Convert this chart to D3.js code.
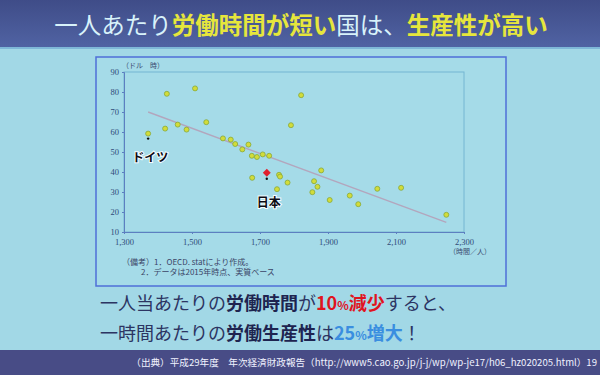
<!DOCTYPE html>
<meta charset="utf-8">
<style>
body { margin: 0; background: #a2d8e6; }
svg { display: block; font-family: "Noto Sans CJK JP", "Noto Sans", sans-serif; }
.tick text { font-family: "Liberation Serif", serif; font-size: 8.5px; fill: #2e4a78; }
</style>
<svg width="600" height="375"></svg>
<script src="https://cdn.jsdelivr.net/npm/d3@7"></script>
<script>

// hours worked per person per year, productivity (USD per hour)
var hours = [1426, 1421, 1458, 1484, 1509, 1542, 1591, 1614, 1627, 1648, 1666, 1676, 1691, 1708, 1727,
             1821, 1791, 1677, 1756, 1759, 1781, 1750, 1880, 1859, 1869, 1854, 1905, 1964, 1989, 2045, 2115, 2248];
var productivity = [79.1, 61.7, 63.7, 61.2, 81.8, 64.9, 56.8, 56.2, 54.0, 51.3, 53.7, 48.1, 47.5, 48.8, 48.1,
                    78.4, 63.4, 37.1, 38.6, 37.7, 34.7, 31.4, 40.8, 35.4, 32.6, 29.9, 26.0, 28.2, 23.9, 31.6, 32.1, 18.6];
var germany = {name: "ドイツ", h: 1371, v: 59.2};
var japan = {name: "日本", h: 1720, v: 39.6};
var trendHours = [1371, 2248];
var trendValues = [70, 14.8];
var xTicks = [1300, 1500, 1700, 1900, 2100, 2300];
var yTicks = [10, 20, 30, 40, 50, 60, 70, 80, 90];

var svg = d3.select("svg");

// slide background
var defs = svg.append("defs");
var hg = defs.append("linearGradient").attr("id", "hdr").attr("x1", 0).attr("y1", 0).attr("x2", 0).attr("y2", 1);
hg.append("stop").attr("offset", 0).attr("stop-color", "#3f4c88");
hg.append("stop").attr("offset", 1).attr("stop-color", "#5063a3");
svg.append("rect").attr("width", 600).attr("height", 375).attr("fill", "#a2d8e6");
svg.append("rect").attr("width", 600).attr("height", 47).attr("fill", "url(#hdr)");
svg.append("rect").attr("y", 47).attr("width", 600).attr("height", 2).attr("fill", "#7fb8d8");
svg.append("rect").attr("y", 350).attr("width", 600).attr("height", 25).attr("fill", "#484c86");

// title
var title = svg.append("text").attr("x", 301).attr("y", 34).attr("text-anchor", "middle")
    .style("font-size", "23.5px");
[["一人あたり", "#d8f2fa", 400], ["労働時間が短い", "#e6e63c", 700], ["国は、", "#d8f2fa", 400], ["生産性が高い", "#e6e63c", 700]]
  .forEach(function(p) {
    title.append("tspan").attr("fill", p[1]).style("font-weight", p[2]).text(p[0]);
  });

// chart panel
svg.append("rect").attr("x", 96).attr("y", 57).attr("width", 410).attr("height", 229)
    .attr("fill", "#a5dbe8").attr("stroke", "#4f6fd8").attr("stroke-width", 1.5);

var x = d3.scaleLinear().domain([1300, 2300]).range([124, 464]),
    y = d3.scaleLinear().domain([10, 90]).range([232, 72]);

svg.append("rect").attr("x", 124).attr("y", 72).attr("width", 340).attr("height", 160)
    .attr("fill", "none").attr("stroke", "#74b6d2").attr("stroke-width", 1);

svg.append("g")
    .attr("transform", "translate(0,232)")
    .call(d3.axisBottom(x).tickValues(xTicks).tickSize(2).tickFormat(d3.format(",")))
    .call(function(g) {
      g.select(".domain").attr("stroke", "#5d7fc0");
      g.selectAll(".tick line").attr("stroke", "#5d7fc0");
      g.selectAll(".tick text").attr("dy", "0.95em");
    });

svg.append("g")
    .attr("transform", "translate(124,0)")
    .call(d3.axisLeft(y).tickValues(yTicks).tickSize(2))
    .call(function(g) {
      g.select(".domain").attr("stroke", "#5d7fc0");
      g.selectAll(".tick line").attr("stroke", "#5d7fc0");
    });

svg.append("text").attr("x", 122).attr("y", 68).attr("fill", "#3a4a70")
    .style("font-size", "7px").text("（ドル　時）");
svg.append("text").attr("x", 449).attr("y", 254).attr("fill", "#3a4a70")
    .style("font-size", "7px").text("（時間／人）");

// trend line
svg.append("line")
    .attr("x1", x(trendHours[0])).attr("y1", y(trendValues[0]))
    .attr("x2", x(trendHours[1])).attr("y2", y(trendValues[1]))
    .attr("stroke", "#b3a6bd").attr("stroke-width", 1.4);

// countries
svg.append("g").selectAll("circle")
    .data(hours.concat([germany.h]))
    .enter().append("circle")
      .attr("cx", function(d) { return x(d); })
      .attr("cy", function(d, i) { return y(i < productivity.length ? productivity[i] : germany.v); })
      .attr("r", 2.5)
      .attr("fill", "#d2dc3a")
      .attr("stroke", "#86a83c")
      .attr("stroke-width", 0.8);

// Japan
svg.append("path")
    .attr("d", d3.symbol().type(d3.symbolDiamond2).size(40))
    .attr("transform", "translate(" + x(japan.h) + "," + y(japan.v) + ")")
    .attr("fill", "#e0202e");

// pointers and labels
[[germany, 5, 24], [japan, 6, 30]].forEach(function(p) {
  var c = p[0];
  svg.append("circle").attr("cx", x(c.h)).attr("cy", y(c.v) + p[1]).attr("r", 1.2).attr("fill", "#111");
  svg.append("text").attr("x", x(c.h) + 2).attr("y", y(c.v) + p[2] + 4)
      .attr("text-anchor", "middle")
      .attr("fill", "#0c0c14").attr("stroke", "#f4fbff").attr("stroke-width", 2).attr("paint-order", "stroke")
      .style("font-size", "12px").style("font-weight", 700).text(c.name);
});

// notes
svg.append("text").attr("x", 122).attr("y", 265).attr("fill", "#3a4466")
    .style("font-size", "8px").text("（備考）1．OECD. statにより作成。");
svg.append("text").attr("x", 141).attr("y", 275).attr("fill", "#3a4466")
    .style("font-size", "8px").text("2．データは2015年時点、実質ベース");

// message
function line(yy, parts) {
  var t = svg.append("text").attr("x", 100).attr("y", yy).style("font-size", "18px");
  parts.forEach(function(p) {
    t.append("tspan").attr("fill", p[1]).style("font-weight", p[2])
        .style("font-size", p[3] || null).text(p[0]);
  });
}
line(310, [["一人当あたりの", "#2c3462", 400], ["労働時間", "#1e2450", 700], ["が", "#2c3462", 400],
           ["10", "#e0141e", 700], ["%", "#e0141e", 700, "12px"], ["減少", "#e0141e", 700], ["すると、", "#2c3462", 400]]);
line(340, [["一時間あたりの", "#2c3462", 400], ["労働生産性", "#1e2450", 700], ["は", "#2c3462", 400],
           ["25", "#3a8ee0", 700], ["%", "#3a8ee0", 700, "12px"], ["増大", "#3a8ee0", 700], ["！", "#2c3462", 400]]);

// footer
svg.append("text").attr("x", 597).attr("y", 366).attr("text-anchor", "end").attr("fill", "#f0f2ff")
    .style("font-size", "9.6px")
    .text("（出典）平成29年度　年次経済財政報告（http://www5.cao.go.jp/j-j/wp/wp-je17/h06_hz020205.html）19");

</script>
